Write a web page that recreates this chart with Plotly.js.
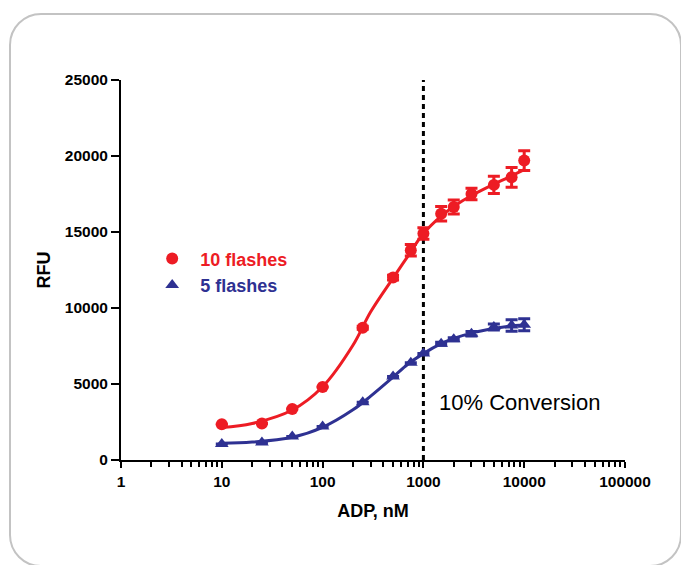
<!DOCTYPE html>
<html>
<head>
<meta charset="utf-8">
<script src="https://cdn.plot.ly/plotly-3.0.1.min.js"></script>
<style>
  html, body { margin: 0; padding: 0; background: #ffffff; width: 681px; height: 565px; overflow: hidden; }
  #frame { position: absolute; left: 9px; top: 13px; width: 673px; height: 554px; box-sizing: border-box;
           border: 2.5px solid #c3c3c3; border-radius: 32px; }
  #chart { position: absolute; left: 0; top: 0; width: 681px; height: 565px; }
</style>
</head>
<body>
<div id="frame"></div>
<div id="chart"></div>
<script>
// ---- data ----
const adp = [10, 25, 50, 100, 250, 500, 750, 1000, 1500, 2000, 3000, 5000, 7500, 10000];
const rfu10 = [2350, 2400, 3350, 4800, 8700, 12000, 13800, 14900, 16200, 16650, 17500, 18100, 18600, 19700];
const err10 = [0, 0, 0, 0, 100, 150, 380, 380, 480, 460, 380, 560, 650, 650];
const rfu5 = [1050, 1150, 1550, 2200, 3800, 5500, 6400, 7000, 7650, 7950, 8300, 8750, 8850, 8900];
const err5 = [0, 0, 0, 0, 0, 0, 0, 0, 100, 100, 150, 200, 380, 400];

// fitted curves
const fitX = [10, 20, 50, 100, 200, 300, 500, 700, 1000, 1500, 2000, 3000, 5000, 7000, 10000];
const fit10 = [2130, 2400, 3290, 4820, 7550, 9750, 11970, 13400, 14900, 16050, 16680, 17400, 18150, 18600, 19100];
const fit5 = [1100, 1180, 1500, 2150, 3300, 4200, 5450, 6300, 7000, 7650, 8000, 8350, 8650, 8800, 8880];

const conversionX = 1000;      // 10% conversion marker
const conversionLabel = '10% Conversion';
const conversionLabelY = 3800;

const seriesNames = ['10 flashes', '5 flashes'];
const xTickVals = [1, 10, 100, 1000, 10000, 100000];
const xTickText = ['1', '10', '100', '1000', '10000', '100000'];
const yTickVals = [0, 5000, 10000, 15000, 20000, 25000];
const yTickText = ['0', '5000', '10000', '15000', '20000', '25000'];

const RED = '#ed1c24';
const BLUE = '#2e3192';

const minorVals = [];
for (let d = 1; d < 100000; d *= 10) for (let m = 2; m <= 9; m++) minorVals.push(d * m);

const traces = [
  { x: [conversionX, conversionX], y: [0, 25000], mode: 'lines', showlegend: false, hoverinfo: 'skip',
    line: { color: '#000', width: 3, dash: '5px,4px' } },
  { x: fitX, y: fit10, mode: 'lines', line: { color: RED, width: 3, shape: 'spline' }, showlegend: false },
  { x: fitX, y: fit5, mode: 'lines', line: { color: BLUE, width: 3, shape: 'spline' }, showlegend: false },
  { x: adp, y: rfu10, mode: 'markers', name: '<b><span style="color:' + RED + '">' + seriesNames[0] + '</span></b>',
    marker: { symbol: 'circle', size: 12, color: RED },
    error_y: { type: 'data', array: err10, visible: true, color: RED, thickness: 3, width: 6 } },
  { x: adp, y: rfu5, mode: 'markers', name: '<b><span style="color:' + BLUE + '">' + seriesNames[1] + '</span></b>',
    marker: { symbol: 'triangle-up', size: 12, color: BLUE },
    error_y: { type: 'data', array: err5, visible: true, color: BLUE, thickness: 3, width: 6 } }
];

const layout = {
  width: 681, height: 565,
  paper_bgcolor: 'rgba(0,0,0,0)', plot_bgcolor: 'rgba(0,0,0,0)',
  margin: { l: 121, r: 56, t: 80, b: 105 },
  font: { family: 'Liberation Sans, Arial, sans-serif', color: '#000' },
  showlegend: true,
  legend: { x: 0.046, y: 0.495, xanchor: 'left', yanchor: 'middle', bgcolor: 'rgba(0,0,0,0)',
            itemwidth: 46, font: { size: 18, family: 'Liberation Sans, Arial, sans-serif' }, tracegroupgap: 0 },
  xaxis: {
    type: 'log', range: [0, 5], tickmode: 'array', tickvals: xTickVals, ticktext: xTickText,
    showline: true, linecolor: '#000', linewidth: 2, ticks: 'outside', ticklen: 6, tickwidth: 2, tickcolor: '#000',
    showgrid: false, zeroline: false,
    tickfont: { size: 15.5, family: 'Liberation Sans, Arial, sans-serif', weight: 'bold' },
    minor: { tickmode: 'array', tickvals: minorVals, ticks: 'outside', ticklen: 5, tickwidth: 2, tickcolor: '#000', showgrid: false },
    title: { text: '<b>ADP, nM</b>', font: { size: 18 }, standoff: 16 }
  },
  yaxis: {
    range: [0, 25000], tickmode: 'array', tickvals: yTickVals, ticktext: yTickText,
    showline: true, linecolor: '#000', linewidth: 2, ticks: 'outside', ticklen: 8, tickwidth: 2, tickcolor: '#000',
    showgrid: false, zeroline: false,
    tickfont: { size: 15.5, family: 'Liberation Sans, Arial, sans-serif', weight: 'bold' },
    title: { text: '<b>RFU</b>', font: { size: 18 }, standoff: 9 }
  },
  annotations: [
    { x: Math.log10(conversionX), y: conversionLabelY, xref: 'x', yref: 'y', text: conversionLabel,
      showarrow: false, xanchor: 'left', yanchor: 'middle', xshift: 14,
      font: { size: 22, family: 'Liberation Sans, Arial, sans-serif', color: '#000' } }
  ]
};

Plotly.newPlot('chart', traces, layout, { displayModeBar: false, staticPlot: true });
</script>
</body>
</html>
